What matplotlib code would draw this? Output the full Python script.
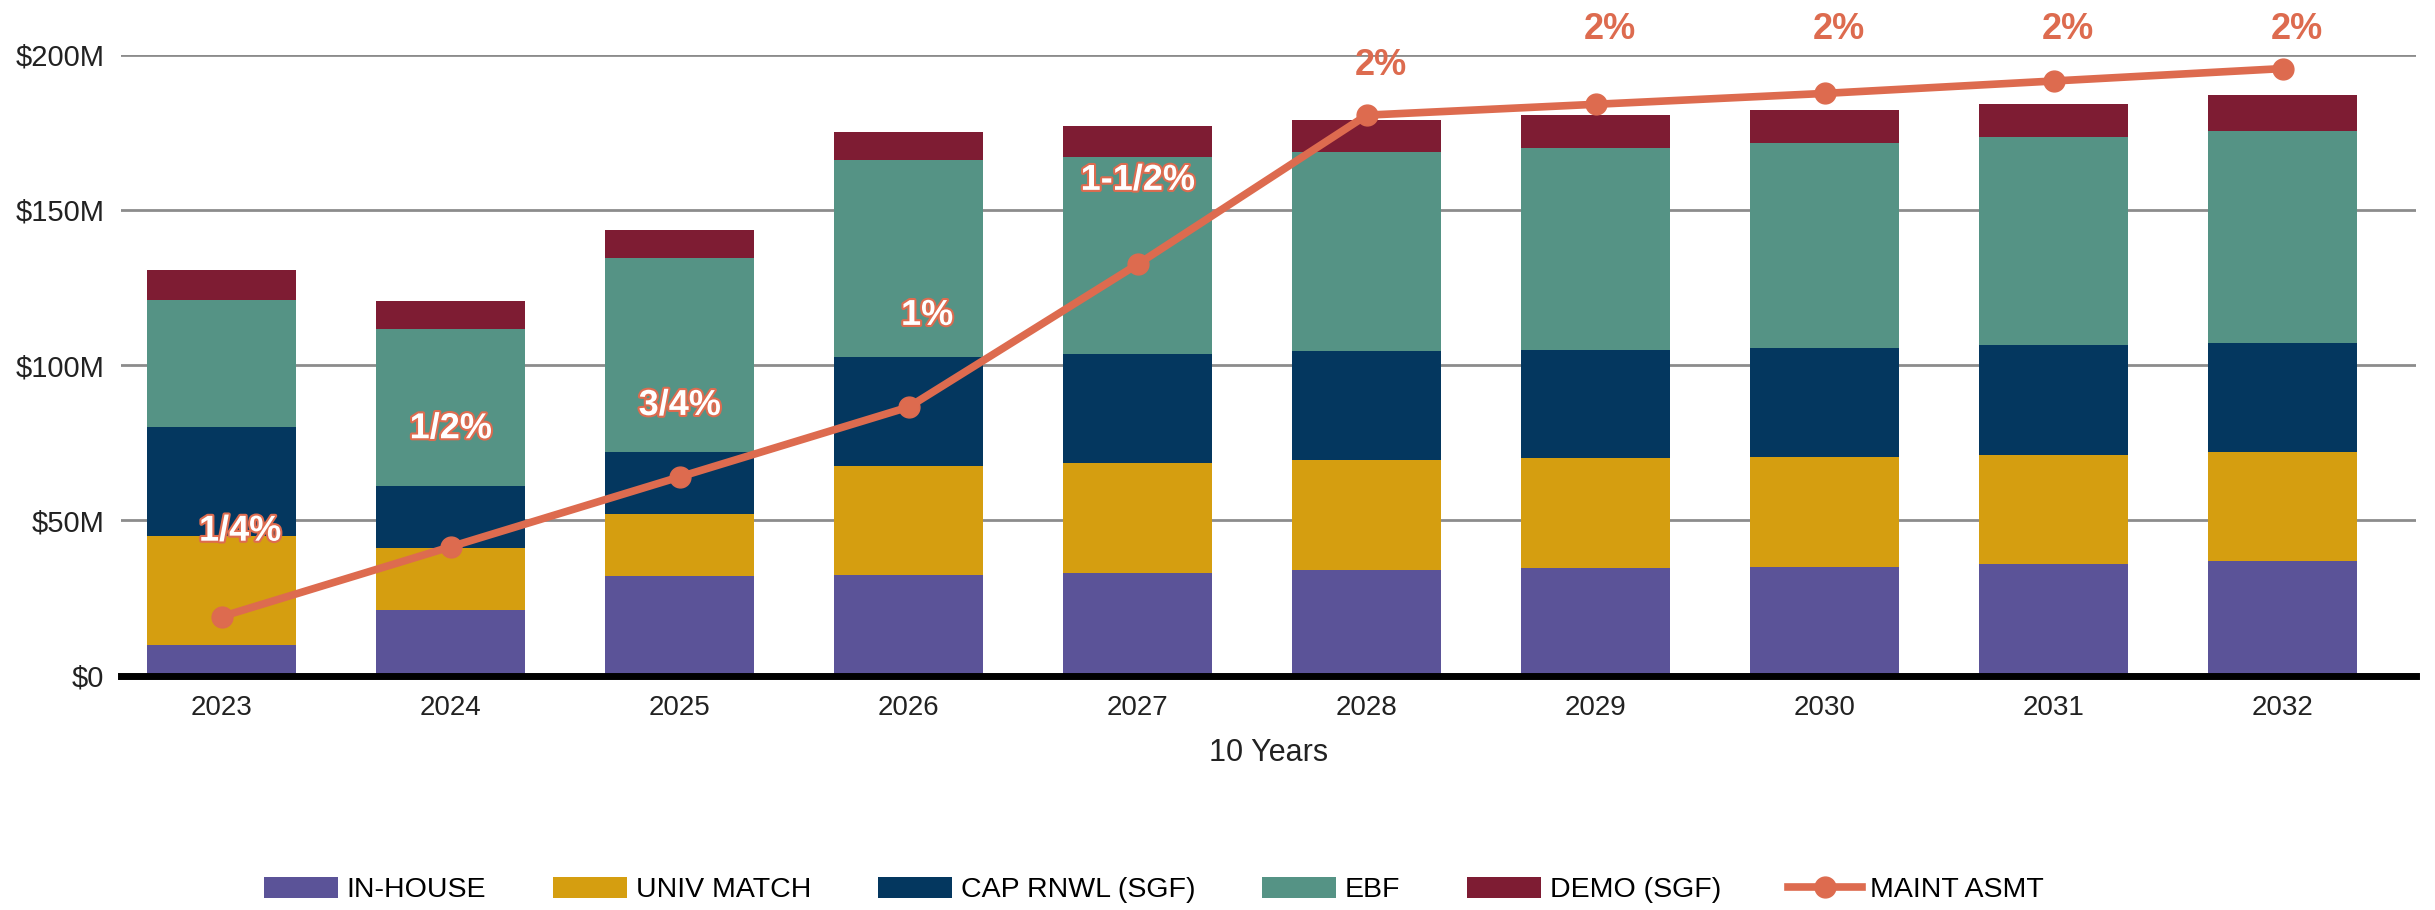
import matplotlib
matplotlib.use('Agg')
import matplotlib.pyplot as plt
import matplotlib.patheffects as pe
from matplotlib.lines import Line2D
from matplotlib.patches import Patch
import numpy as np

years = ['2023', '2024', '2025', '2026', '2027', '2028', '2029', '2030', '2031', '2032']
in_house = [10, 21, 32, 32.5, 33, 34, 34.5, 35, 36, 37]
univ_match = [35, 20, 20, 35, 35.5, 35.5, 35.5, 35.5, 35, 35]
cap_rnwl = [35, 20, 20, 35, 35, 35, 35, 35, 35.5, 35]
ebf = [41, 50.5, 62.5, 63.5, 63.5, 64, 65, 66, 67, 68.5]
demo = [9.5, 9, 9, 9, 10, 10.5, 10.5, 10.5, 10.5, 11.5]
maint_asmt = [19, 41.5, 64, 86.5, 132.5, 180.5, 184, 187.5, 191.5, 195.5]
pct_labels = ['1/4%', '1/2%', '3/4%', '1%', '1-1/2%', '2%', '2%', '2%', '2%', '2%']
pct_label_y = [46.5, 79.5, 87, 116, 159.5, 196.5, 208, 208, 208, 208]

series_names = ['IN-HOUSE', 'UNIV MATCH', 'CAP RNWL (SGF)', 'EBF', 'DEMO (SGF)']
colors = ['#5B5398', '#D59E10', '#04375F', '#559385', '#7E1C33']
line_color = '#DD6B4F'

plt.rcParams['font.family'] = ['Liberation Sans', 'DejaVu Sans']

fig = plt.figure(figsize=(24.35, 9.10), dpi=100)
ax = fig.add_axes([0.0497, 0.2576, 0.9423, 0.6824])

x = np.arange(len(years))
bottom = np.zeros(len(years))
for vals, name, c in zip([in_house, univ_match, cap_rnwl, ebf, demo], series_names, colors):
    ax.bar(x, vals, width=0.65, bottom=bottom, color=c, zorder=2)
    bottom += np.array(vals)

ax.plot(x, maint_asmt, color=line_color, lw=5.5, marker='o', ms=15, zorder=4)

for i, (lab, yy) in enumerate(zip(pct_labels, pct_label_y)):
    dx = 0.08 if i in (0, 3) else 0
    if i < 5:
        ax.text(i + dx, yy, lab, ha='center', va='center', fontsize=26, fontweight='bold',
                color='white', zorder=5,
                path_effects=[pe.withStroke(linewidth=3, foreground=line_color)])
    else:
        ax.text(i + 0.06, yy, lab, ha='center', va='center', fontsize=26, fontweight='bold',
                color=line_color, zorder=5, clip_on=False)

ax.set_xlim(-0.44, 9.58)
ax.set_ylim(0, 200)
ax.set_yticks([0, 50, 100, 150, 200])
ax.set_yticklabels(['$0', '$50M', '$100M', '$150M', '$200M'])
ax.set_xticks(x)
ax.set_xticklabels(years)
ax.tick_params(axis='both', length=0, colors='#222222')
ax.tick_params(axis='x', pad=14, labelsize=20)
ax.tick_params(axis='y', pad=12, labelsize=21)
ax.yaxis.grid(True, color='#8c8c8c', lw=2, zorder=0)
ax.set_axisbelow(True)
for s in ['top', 'right', 'left']:
    ax.spines[s].set_visible(False)
ax.spines['bottom'].set_linewidth(5)
ax.spines['bottom'].set_color('black')
ax.spines['bottom'].set_zorder(6)
ax.set_xlabel('10 Years', fontsize=22, color='#222222', labelpad=12)

handles = [Patch(facecolor=c, label=n) for c, n in zip(colors, series_names)]
handles.append(Line2D([0], [0], color=line_color, lw=5.5, marker='o', ms=15, label='MAINT ASMT'))
leg = fig.legend(handles=handles, loc='center left', bbox_to_anchor=(0.098, 0.022), ncol=6,
                 frameon=False, handlelength=2.6, handleheight=0.8, columnspacing=2.35,
                 handletextpad=0.3, prop={'size': 20.5})

fig.savefig('out.png', dpi=100)
